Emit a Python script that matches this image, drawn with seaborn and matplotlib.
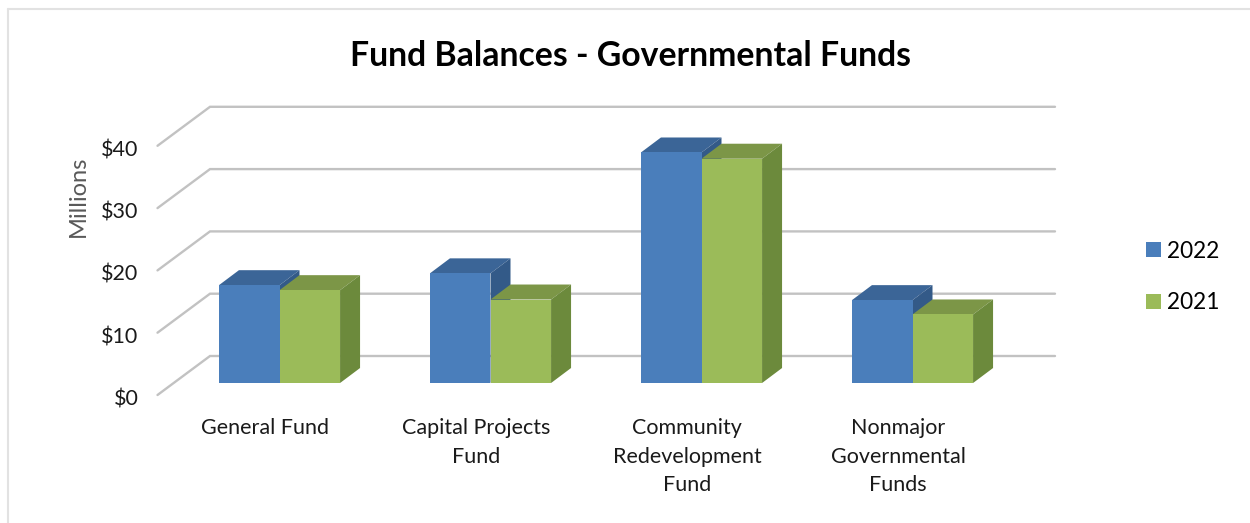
import matplotlib
matplotlib.use("Agg")
import matplotlib.pyplot as plt
from matplotlib.lines import Line2D
from matplotlib.patches import Polygon
from matplotlib.transforms import ScaledTranslation
import pandas as pd
import seaborn as sns

categories = ["General Fund", "Capital Projects\nFund",
              "Community\nRedevelopment\nFund", "Nonmajor\nGovernmental\nFunds"]
values_2022 = [15.7, 17.6, 37.0, 13.3]
values_2021 = [14.9, 13.4, 36.0, 11.0]
axis_ticks = [0, 10, 20, 30, 40]
axis_labels = ["$0", "$10", "$20", "$30", "$40"]

front_colors = {"2022": "#4a7ebb", "2021": "#9bbb59"}
top_colors = {"2022": "#3b6597", "2021": "#7c9647"}
side_colors = {"2022": "#335a88", "2021": "#6c8a3c"}

sns.set_theme(style="white")
plt.rcParams["font.family"] = ["Lato", "DejaVu Sans"]

W, H = 1250, 523
fig = plt.figure(figsize=(W / 100, H / 100), dpi=100)

# plot area in pixels: the front edge of the floor and the $40 level
left, right, floor, top = 174.0, 1018.0, 383.0, 133.8
ax = fig.add_axes([left / W, 1 - floor / H, (right - left) / W, (floor - top) / H])

df = pd.DataFrame({
    "Fund": categories * 2,
    "Year": ["2022"] * 4 + ["2021"] * 4,
    "Balance": values_2022 + values_2021,
})
sns.barplot(data=df, x="Fund", y="Balance", hue="Year", hue_order=["2022", "2021"],
            palette=front_colors, saturation=1, width=0.574, gap=0, ax=ax,
            errorbar=None, linewidth=0, zorder=3)
ax.set_xlim(-0.5, 3.5)
ax.set_ylim(0, 40)

px_x = 4.0 / (right - left)     # data units per pixel, horizontal
px_y = 40.0 / (floor - top)     # data units per pixel, vertical

# back wall gridlines and their slanted run along the side wall
for v in axis_ticks:
    ax.plot([-0.5 - 16.5 * px_x, -0.5 + 36 * px_x, 3.5 + 37 * px_x],
            [v - 12 * px_y, v + 27 * px_y, v + 27 * px_y],
            color="#c2c2c2", lw=1.7, clip_on=False, zorder=1,
            solid_joinstyle="miter")

# extruded top and side of each column
depth_x, depth_y = 20 * px_x, 15 * px_y
for layer, (year, container) in enumerate(zip(["2022", "2021"], ax.containers)):
    for bar in container:
        x0, x1 = bar.get_x(), bar.get_x() + bar.get_width()
        h = bar.get_height()
        bar.set_zorder(3 + 2 * layer + 0.5)
        ax.add_patch(Polygon([(x0, h), (x1, h), (x1 + depth_x, h + depth_y), (x0 + depth_x, h + depth_y)],
                             closed=True, fc=top_colors[year], ec="none", clip_on=False,
                             zorder=3 + 2 * layer))
        ax.add_patch(Polygon([(x1, 0), (x1, h), (x1 + depth_x, h + depth_y), (x1 + depth_x, depth_y)],
                             closed=True, fc=side_colors[year], ec="none", clip_on=False,
                             zorder=3 + 2 * layer))

sns.despine(ax=ax, left=True, bottom=True)
ax.set_xlabel("")
ax.set_ylabel("Millions", fontsize=17, color="#595959")
ax.yaxis.set_label_coords((89 - left) / (right - left), (floor - 196) / (floor - top))

ax.set_yticks(axis_ticks, axis_labels)
ax.tick_params(axis="y", length=0, pad=25.5, labelsize=15.5, labelcolor="#1a1a1a")
ax.tick_params(axis="x", length=0, pad=25, labelsize=15.5, labelcolor="#1a1a1a")
for lab in ax.get_yticklabels():
    lab.set_transform(lab.get_transform() + ScaledTranslation(0, -14.5 / 100, fig.dpi_scale_trans))
for lab in ax.get_xticklabels():
    lab.set_transform(lab.get_transform() + ScaledTranslation(-14.5 / 100, 0, fig.dpi_scale_trans))
    lab.set_linespacing(1.55)

fig.text(630 / W, 1 - 56 / H, "Fund Balances - Governmental Funds", ha="center", va="center",
         fontsize=24.3, fontweight="bold", color="black")

handles, labels = ax.get_legend_handles_labels()
ax.legend(handles, labels, loc="center left", bbox_to_anchor=(1146 / W, 1 - 277 / H),
          bbox_transform=fig.transFigure, frameon=False, fontsize=16.3, handlelength=0.66,
          handleheight=0.66, handletextpad=0.27, labelspacing=1.36, borderpad=0, borderaxespad=0,
          labelcolor="black")

# chart frame, visible on the top and left only
for xs, ys in [((8, 1250), (9, 9)), ((8, 8), (9, 523))]:
    fig.add_artist(Line2D([x / W for x in xs], [1 - y / H for y in ys],
                          color="#e2e2e2", lw=1.5))

fig.savefig("out.png", dpi=100, facecolor="white")
